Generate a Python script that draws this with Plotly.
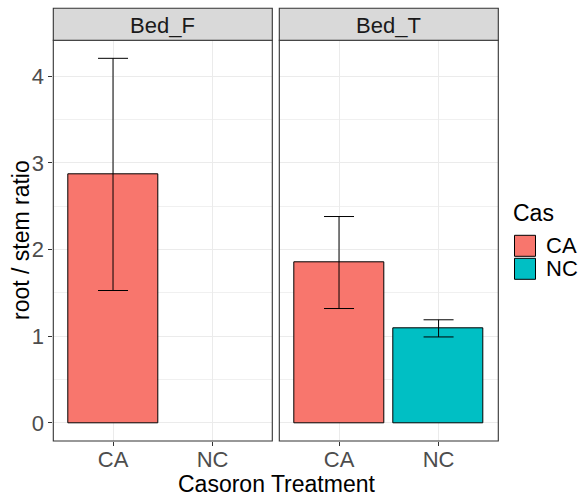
import plotly.graph_objects as go

# Data
panels = ["Bed_F", "Bed_T"]
categories = ["CA", "NC"]
bedF_means = [2.867, None]
bedF_se = [1.34, None]
bedT_means = [1.850, 1.090]
bedT_se = [0.531, 0.099]
colors = {"CA": "#F8766D", "NC": "#00BFC4"}

W, H = 583, 496
def px(x):
    return x / W
def py(y):
    return 1 - y / H

FONT = "Liberation Sans, Arial"
panel_top, panel_bot = 40.3, 441.0
strip_top = 8.3
p1 = (53.3, 272.3)
p2 = (279.3, 498.3)

fig = go.Figure()

for pi, (means, ses) in enumerate([(bedF_means, bedF_se), (bedT_means, bedT_se)]):
    xa = "x" if pi == 0 else "x2"
    ya = "y" if pi == 0 else "y2"
    for cat, m, s in zip(categories, means, ses):
        if m is None:
            continue
        fig.add_trace(go.Bar(
            x=[cat], y=[m], width=0.9, xaxis=xa, yaxis=ya,
            marker=dict(color=colors[cat], line=dict(color="black", width=1)),
            error_y=dict(type="data", array=[s], visible=True, color="black",
                         thickness=1, width=15),
            showlegend=False, hoverinfo="skip"))

ymin, ymax = -0.21, 4.415
grid = "#EBEBEB"
tickfont = dict(family=FONT, size=22, color="#4D4D4D")
common_x = dict(type="category", categoryorder="array", categoryarray=categories,
                range=[-0.6, 1.6], showgrid=True, gridcolor=grid, gridwidth=1.1,
                ticks="outside", ticklen=4, tickcolor="#333333", tickwidth=1,
                tickfont=tickfont, showline=False, zeroline=False, fixedrange=True,
                ticklabelstandoff=-5)
fig.update_layout(
    xaxis=dict(domain=[px(p1[0]), px(p1[1])], anchor="y", **common_x),
    xaxis2=dict(domain=[px(p2[0]), px(p2[1])], anchor="y2", **common_x),
    yaxis=dict(domain=[py(panel_bot), py(panel_top)], anchor="x", range=[ymin, ymax],
               tickvals=[0, 1, 2, 3, 4], ticks="outside", ticklen=4, tickcolor="#333333",
               tickfont=tickfont, showgrid=True, gridcolor=grid, gridwidth=1.1,
               zeroline=False, showline=False, ticklabelstandoff=0,
               minor=dict(tickvals=[0.5, 1.5, 2.5, 3.5], showgrid=True, gridcolor="#F0F0F0", gridwidth=0.7, ticks="")),
    yaxis2=dict(domain=[py(panel_bot), py(panel_top)], anchor="x2", matches="y", range=[ymin, ymax],
                tickvals=[0, 1, 2, 3, 4], showticklabels=False, ticks="",
                showgrid=True, gridcolor=grid, gridwidth=1.1, zeroline=False, showline=False,
                minor=dict(tickvals=[0.5, 1.5, 2.5, 3.5], showgrid=True, gridcolor="#F0F0F0", gridwidth=0.7, ticks="")),
    width=W, height=H, margin=dict(l=0, r=0, t=0, b=0),
    paper_bgcolor="white", plot_bgcolor="white", bargap=0, showlegend=False,
)

shapes = []
annotations = []
for (x0, x1), name in zip([p1, p2], panels):
    shapes.append(dict(type="rect", xref="paper", yref="paper", x0=px(x0), x1=px(x1),
                       y0=py(panel_bot), y1=py(panel_top), line=dict(color="#333333", width=1.1),
                       fillcolor="rgba(0,0,0,0)", layer="above"))
    shapes.append(dict(type="rect", xref="paper", yref="paper", x0=px(x0), x1=px(x1),
                       y0=py(panel_top), y1=py(strip_top), line=dict(color="#333333", width=1.1),
                       fillcolor="#D9D9D9", layer="above"))
    annotations.append(dict(text=name, xref="paper", yref="paper", x=px((x0 + x1) / 2),
                            y=py((strip_top + panel_top) / 2 + 1), showarrow=False,
                            xanchor="center", yanchor="middle",
                            font=dict(family=FONT, size=22, color="#1A1A1A")))

annotations.append(dict(text="Casoron Treatment", xref="paper", yref="paper", x=px(276), y=py(484),
                        showarrow=False, xanchor="center", yanchor="middle",
                        font=dict(family=FONT, size=23, color="black")))
annotations.append(dict(text="root / stem ratio", xref="paper", yref="paper", x=px(20.5), y=py(240.5),
                        showarrow=False, xanchor="center", yanchor="middle", textangle=-90,
                        font=dict(family=FONT, size=23, color="black")))

# Legend
annotations.append(dict(text="Cas", xref="paper", yref="paper", x=px(511), y=py(213),
                        showarrow=False, xanchor="left", yanchor="middle",
                        font=dict(family=FONT, size=23, color="black")))
key_tops = [235.3, 258.3]
for cat, kt in zip(categories, key_tops):
    shapes.append(dict(type="rect", xref="paper", yref="paper", x0=px(514.5), x1=px(535.5),
                       y0=py(kt + 21), y1=py(kt), fillcolor=colors[cat],
                       line=dict(color="black", width=1)))
    annotations.append(dict(text=cat, xref="paper", yref="paper", x=px(544), y=py(kt + 10.5),
                            showarrow=False, xanchor="left", yanchor="middle",
                            font=dict(family=FONT, size=22, color="black")))

fig.update_layout(shapes=shapes, annotations=annotations)
fig.write_html("out.html")
